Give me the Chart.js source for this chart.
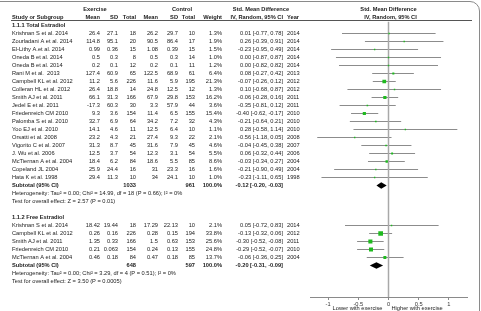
<!DOCTYPE html>
<html>
<head>
<meta charset="utf-8">
<script src="https://cdn.jsdelivr.net/npm/chart.js@4.4.0/dist/chart.umd.min.js"></script>
<style>
  html, body { margin: 0; padding: 0; background: #fff; overflow: hidden; }
  #wrap { position: relative; width: 481px; height: 311px; overflow: hidden; }
  #chart { position: absolute; left: 0; top: 0; }
  #frame { position: absolute; left: -3px; top: 1px; width: 483px; height: 400px; box-sizing: border-box;
           border: 1px solid #8a8a8a; border-top-right-radius: 10px; pointer-events: none; }
</style>
</head>
<body>
<div id="wrap">
  <canvas id="chart" width="481" height="311"></canvas>
  <div id="frame"></div>
</div>
<script>
// subgroup 1.1.1 Total Estradiol
const totalStudies = ['Krishnan S et al. 2014', 'Zourladani A et al. 2014', 'El-Lithy A.et al. 2014', 'Oneda B et al. 2014', 'Oneda B et al. 2014', 'Rani M et al.  2013', 'Campbell KL et al. 2012', 'Colleran HL et al. 2012', 'Smith AJ et al. 2011', 'Jedel E et al. 2011', 'Friedenreich CM 2010', 'Palomba S et al. 2010', 'Yoo EJ et al. 2010', 'Orsatti et al. 2008', 'Vigorito C et al. 2007', 'J. Wu et al. 2006', 'McTiernan A et al. 2004', 'Copeland JL 2004', 'Hata K et al. 1998'];
const totalExMean = [26.4, 114.8, 0.99, 0.5, 0.2, 127.4, 11.2, 26.4, 66.1, -17.3, 9.3, 32.7, 14.1, 23.2, 31.3, 12.5, 18.4, 25.9, 29.4];
const totalExSD = [27.1, 95.1, 0.36, 0.3, 0.1, 60.9, 5.6, 18.8, 31.3, 60.3, 3.6, 6.9, 4.6, 4.3, 8.7, 3.7, 6.2, 24.4, 11.3];
const totalExN = [18, 20, 15, 8, 12, 65, 226, 14, 166, 30, 154, 64, 11, 21, 45, 54, 84, 16, 10];
const totalCtMean = [26.2, 90.5, 1.08, 0.5, 0.2, 122.5, 11.6, 24.8, 67.9, 3.3, 11.4, 34.2, 12.5, 27.4, 31.6, 12.3, 18.6, 31, 34];
const totalCtSD = [29.7, 86.4, 0.39, 0.3, 0.1, 68.9, 5.9, 12.5, 29.8, 57.9, 6.5, 7.2, 6.4, 9.3, 7.9, 3.1, 5.5, 23.3, 24.1];
const totalCtN = [10, 17, 15, 14, 11, 61, 195, 12, 153, 44, 155, 32, 10, 22, 45, 54, 85, 16, 10];
const totalWeight = [1.3, 1.9, 1.5, 1.0, 1.2, 6.4, 21.3, 1.3, 16.2, 3.6, 15.4, 4.3, 1.1, 2.1, 4.6, 5.5, 8.6, 1.6, 1.0];
const totalSmd = [0.01, 0.26, -0.23, 0.00, 0.00, 0.08, -0.07, 0.10, -0.06, -0.35, -0.40, -0.21, 0.28, -0.56, -0.04, 0.06, -0.03, -0.21, -0.23];
const totalLow = [-0.77, -0.39, -0.95, -0.87, -0.82, -0.27, -0.26, -0.68, -0.28, -0.81, -0.62, -0.64, -0.58, -1.18, -0.45, -0.32, -0.34, -0.90, -1.11];
const totalHigh = [0.78, 0.91, 0.49, 0.87, 0.82, 0.42, 0.12, 0.87, 0.16, 0.12, -0.17, 0.21, 1.14, 0.05, 0.38, 0.44, 0.27, 0.49, 0.65];
const totalYears = [2014, 2014, 2014, 2014, 2014, 2013, 2012, 2012, 2011, 2011, 2010, 2010, 2010, 2008, 2007, 2006, 2004, 2004, 1998];

// subgroup 1.1.2 Free Estradiol
const freeStudies = ['Krishnan S et al. 2014', 'Campbell KL et al. 2012', 'Smith AJ et al. 2011', 'Friedenreich CM 2010', 'McTiernan A et al. 2004'];
const freeExMean = [18.42, 0.26, 1.35, 0.21, 0.46];
const freeExSD = [19.44, 0.16, 0.33, 0.063, 0.18];
const freeExN = [18, 226, 166, 154, 84];
const freeCtMean = [17.29, 0.28, 1.5, 0.24, 0.47];
const freeCtSD = [22.13, 0.15, 0.63, 0.13, 0.18];
const freeCtN = [10, 194, 153, 155, 85];
const freeWeight = [2.1, 33.8, 25.6, 24.8, 13.7];
const freeSmd = [0.05, -0.13, -0.30, -0.29, -0.06];
const freeLow = [-0.72, -0.32, -0.52, -0.52, -0.36];
const freeHigh = [0.83, 0.06, -0.08, -0.07, 0.25];
const freeYears = [2014, 2012, 2011, 2010, 2004];

// subtotals
const subgroupTitles = ['1.1.1 Total Estradiol', '1.1.2 Free Estradiol'];
const subtotalExN = [1033, 648];
const subtotalCtN = [961, 597];
const subtotalSmd = [-0.12, -0.20];
const subtotalLow = [-0.20, -0.31];
const subtotalHigh = [-0.03, -0.09];
const heterogeneity = ['Heterogeneity: Tau\u00b2 = 0.00; Chi\u00b2 = 14.99, df = 18 (P = 0.66); I\u00b2 = 0%',
                       'Heterogeneity: Tau\u00b2 = 0.00; Chi\u00b2 = 3.29, df = 4 (P = 0.51); I\u00b2 = 0%'];
const overallTest = ['Test for overall effect: Z = 2.57 (P = 0.01)', 'Test for overall effect: Z = 3.50 (P = 0.0005)'];

const axisTicks = [-1, -0.5, 0, 0.5, 1];
const axisTitles = ['Lower with exercise', 'Higher with exercise'];

const groups = [
  { studies: totalStudies, exMean: totalExMean, exSD: totalExSD, exN: totalExN, ctMean: totalCtMean, ctSD: totalCtSD,
    ctN: totalCtN, weight: totalWeight, smd: totalSmd, low: totalLow, high: totalHigh, years: totalYears },
  { studies: freeStudies, exMean: freeExMean, exSD: freeExSD, exN: freeExN, ctMean: freeCtMean, ctSD: freeCtSD,
    ctN: freeCtN, weight: freeWeight, smd: freeSmd, low: freeLow, high: freeHigh, years: freeYears }
];

// lay the rows out one after another
const studyRows = [];
const subRows = [];
const noteRows = [];
let row = 0;
groups.forEach((g, gi) => {
  noteRows.push({ row: row++, text: subgroupTitles[gi], bold: true });
  g.studies.forEach((name, i) => {
    studyRows.push({ row: row++, name, exMean: g.exMean[i], exSD: g.exSD[i], exN: g.exN[i], ctMean: g.ctMean[i],
      ctSD: g.ctSD[i], ctN: g.ctN[i], weight: g.weight[i], smd: g.smd[i], low: g.low[i], high: g.high[i], year: g.years[i] });
  });
  subRows.push({ row: row++, exN: subtotalExN[gi], ctN: subtotalCtN[gi], smd: subtotalSmd[gi], low: subtotalLow[gi], high: subtotalHigh[gi] });
  noteRows.push({ row: row++, text: heterogeneity[gi], bold: false });
  noteRows.push({ row: row++, text: overallTest[gi], bold: false });
  row++;
});

const ROW_MIN = -0.5;
const ROW_MAX = 33.9375;

const FONT = "'Liberation Sans', Arial, sans-serif";
const fs = 5.7;
const fmt = v => v.toFixed(2);
const ciText = (s, l, h) => fmt(s) + ' [' + fmt(l) + ', ' + fmt(h) + ']';

// one small line dataset per confidence interval
const ciSets = studyRows.map(r => ({
  type: 'line',
  data: [{ x: r.low, y: r.row }, { x: r.high, y: r.row }],
  borderColor: '#8c8c8c',
  borderWidth: 1,
  pointRadius: 0,
  fill: false
}));

const zeroSet = {
  type: 'line',
  data: [{ x: 0, y: ROW_MIN }, { x: 0, y: ROW_MAX }],
  borderColor: '#a8a8a8',
  borderWidth: 1.5,
  pointRadius: 0,
  fill: false
};

const tablePlugin = {
  id: 'table',
  afterDraw(chart) {
    const ctx = chart.ctx;
    const ys = chart.scales.y;
    const xs = chart.scales.x;
    const zero = xs.getPixelForValue(0);
    ctx.save();
    ctx.fillStyle = '#222';
    ctx.textBaseline = 'middle';
    const put = (text, x, y, align, bold) => {
      ctx.font = (bold ? 'bold ' : '') + fs + 'px ' + FONT;
      ctx.textAlign = align;
      ctx.fillText(text, x, y);
    };

    // headers
    put('Exercise', 95, 9, 'center', true);
    put('Control', 182, 9, 'center', true);
    put('Std. Mean Difference', 261, 9, 'center', true);
    put('Std. Mean Difference', zero, 9, 'center', true);
    put('Study or Subgroup', 12, 17, 'left', true);
    put('Mean', 100, 17, 'right', true);
    put('SD', 118, 17, 'right', true);
    put('Total', 136, 17, 'right', true);
    put('Mean', 158, 17, 'right', true);
    put('SD', 178, 17, 'right', true);
    put('Total', 195, 17, 'right', true);
    put('Weight', 222, 17, 'right', true);
    put('IV, Random, 95% CI', 283, 17, 'right', true);
    put('Year', 287, 17, 'left', true);
    put('IV, Random, 95% CI', zero + 2, 17, 'center', true);

    ctx.strokeStyle = '#555';
    ctx.lineWidth = 1;
    ctx.beginPath();
    ctx.moveTo(11, 20.5);
    ctx.lineTo(472, 20.5);
    ctx.stroke();

    studyRows.forEach(r => {
      const y = ys.getPixelForValue(r.row);
      put(r.name, 12, y, 'left');
      put(String(r.exMean), 100, y, 'right');
      put(String(r.exSD), 118, y, 'right');
      put(String(r.exN), 136, y, 'right');
      put(String(r.ctMean), 158, y, 'right');
      put(String(r.ctSD), 178, y, 'right');
      put(String(r.ctN), 195, y, 'right');
      put(r.weight.toFixed(1) + '%', 222, y, 'right');
      put(ciText(r.smd, r.low, r.high), 283, y, 'right');
      put(String(r.year), 287, y, 'left');
    });

    subRows.forEach(r => {
      const y = ys.getPixelForValue(r.row);
      put('Subtotal (95% CI)', 12, y, 'left', true);
      put(String(r.exN), 136, y, 'right', true);
      put(String(r.ctN), 195, y, 'right', true);
      put('100.0%', 222, y, 'right', true);
      put(ciText(r.smd, r.low, r.high), 283, y, 'right', true);
      // summary diamond
      const xl = xs.getPixelForValue(r.low);
      const xm = xs.getPixelForValue(r.smd);
      const xh = xs.getPixelForValue(r.high);
      ctx.fillStyle = '#000';
      ctx.beginPath();
      ctx.moveTo(xl, y);
      ctx.lineTo(xm, y - 3.2);
      ctx.lineTo(xh, y);
      ctx.lineTo(xm, y + 3.2);
      ctx.closePath();
      ctx.fill();
      ctx.fillStyle = '#222';
    });

    noteRows.forEach(r => {
      put(r.text, 12, ys.getPixelForValue(r.row), 'left', r.bold);
    });

    put(axisTitles[0], zero - 6, 308, 'right');
    put(axisTitles[1], zero + 3, 308, 'left');
    ctx.restore();
  }
};

new Chart(document.getElementById('chart'), {
  type: 'scatter',
  data: {
    datasets: [
      {
        data: studyRows.map(r => ({ x: r.smd, y: r.row, w: r.weight })),
        pointStyle: 'rect',
        pointRadius: c => Math.max(1, 0.57 * Math.sqrt(c.raw.w)),
        backgroundColor: '#1fba1f',
        borderWidth: 0,
        order: 0
      },
      zeroSet,
      ...ciSets
    ]
  },
  options: {
    responsive: false,
    animation: false,
    events: [],
    layout: { padding: { left: 310, right: 14, top: 21.5, bottom: 0 } },
    plugins: { legend: { display: false }, tooltip: { enabled: false } },
    scales: {
      x: {
        type: 'linear',
        min: -1.3,
        max: 1.3,
        afterBuildTicks: s => { s.ticks = axisTicks.map(v => ({ value: v })); },
        afterFit: s => { s.height = 14; },
        border: { color: '#8a8a8a', width: 1 },
        grid: { drawOnChartArea: false, tickColor: '#8a8a8a', tickLength: 3 },
        ticks: {
          font: { family: FONT, size: 5.7 },
          color: '#333',
          padding: 1,
          maxRotation: 0,
          autoSkip: false,
          callback: v => String(v)
        }
      },
      y: { type: 'linear', display: false, reverse: true, min: ROW_MIN, max: ROW_MAX }
    }
  },
  plugins: [tablePlugin]
});
</script>
</body>
</html>
